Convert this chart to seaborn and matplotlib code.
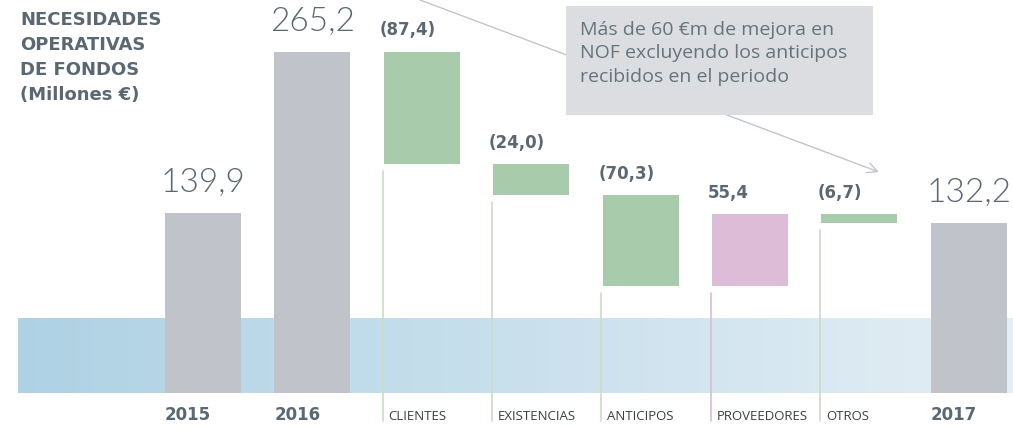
import numpy as np
import pandas as pd
import matplotlib
matplotlib.use('Agg')
import matplotlib.pyplot as plt
from matplotlib.colors import LinearSegmentedColormap
import seaborn as sns

# Chart data
categories = ['2015', '2016', 'CLIENTES', 'EXISTENCIAS', 'ANTICIPOS', 'PROVEEDORES', 'OTROS', '2017']
is_total = [True, True, False, False, False, False, False, True]
values = [139.9, 265.2, -87.4, -24.0, -70.3, 55.4, -6.7, 132.2]
value_labels = ['139,9', '265,2', '(87,4)', '(24,0)', '(70,3)', '55,4', '(6,7)', '132,2']
title_lines = ['NECESIDADES', 'OPERATIVAS', 'DE FONDOS', '(Millones €)']
note_text = 'Más de 60 €m de mejora en\nNOF excluyendo los anticipos\nrecibidos en el periodo'
band_top = 58.3

GREY = '#c0c3ca'
GREEN = '#a8cbab'
PINK = '#dcbcd6'
TEXT = '#5b6872'
line_colors = {GREEN: '#c9dec4', PINK: '#d9bdd4'}

# waterfall bottoms / heights
bottoms, heights, colors = [], [], []
running = 0.0
for v, tot in zip(values, is_total):
    if tot:
        bottoms.append(0.0)
        heights.append(v)
        colors.append(GREY)
        running = v
    else:
        new = running + v
        bottoms.append(min(running, new))
        heights.append(abs(v))
        colors.append(GREEN if v < 0 else PINK)
        running = new

df = pd.DataFrame({'cat': categories, 'height': heights, 'bottom': bottoms})

sns.set_style('white')
plt.rcParams['font.family'] = ['DejaVu Sans']

fig = plt.figure(figsize=(10.13, 4.28), dpi=100)
ax = fig.add_axes([0, 0, 1, 1])

bar_w = 0.695
sns.barplot(data=df, x='cat', y='height', hue='cat', palette=colors, legend=False,
            width=bar_w, saturation=1, linewidth=0, edgecolor='none', ax=ax, zorder=3)
# lift the floating bars onto their bottoms
for patch, b in zip(ax.patches, bottoms):
    patch.set_y(b)

# x/y limits chosen so that the layout matches the reference
px_step = 109.4
ppu = 1.286
xlim = (-203 / px_step, (1013 - 203) / px_step)
ylim = (-(428 - 393) / ppu, 393 / ppu)

# light blue gradient band behind the bars
cmap = LinearSegmentedColormap.from_list('band', ['#aed2e4', '#e4eef5'])
grad = np.linspace(0, 1, 256).reshape(1, -1)
ax.imshow(grad, cmap=cmap, aspect='auto', zorder=1,
          extent=[(18 - 203) / px_step, xlim[1], 0, band_top])

ax.set_xlim(*xlim)
ax.set_ylim(*ylim)
ax.axis('off')

label_y = -(420 - 393) / ppu
for i, (cat, tot, b, h, lab, col) in enumerate(zip(categories, is_total, bottoms, heights,
                                                   value_labels, colors)):
    left = i - bar_w / 2
    top = b + h
    if tot:
        ax.annotate(lab, (i, top), xytext=(0, 15), textcoords='offset points',
                    ha='center', va='baseline', fontsize=24, color=TEXT,
                    fontweight=300, family=['Lato', 'DejaVu Sans'])
        ax.text(left, label_y, cat, ha='left', va='baseline', fontsize=12,
                fontweight='bold', color=TEXT)
    else:
        ax.annotate(lab, (left, top), xytext=(-3, 12), textcoords='offset points',
                    ha='left', va='baseline', fontsize=12, color=TEXT,
                    fontweight='bold')
        line_x = left - 0.01
        ax.plot([line_x, line_x], [b - 7 / ppu, label_y - 1], color=line_colors[col],
                lw=1.2, zorder=2)
        ax.text(line_x + 6 / px_step, label_y, cat, ha='left', va='baseline',
                fontsize=9.5, color='#3a3f44', family=['Open Sans', 'DejaVu Sans'])

# title block
for k, line in enumerate(title_lines):
    fig.text(20 / 1013, 1 - (25 + 25 * k) / 428, line, ha='left', va='baseline',
             fontsize=13, fontweight='bold', color=TEXT)

# pointer line with open arrow head
ax.annotate('', xy=(879 / 1013, 1 - 172 / 428), xycoords='figure fraction',
            xytext=(420 / 1013, 1.0), textcoords='figure fraction',
            arrowprops=dict(arrowstyle='->', color='#c4c4d0', lw=1,
                            mutation_scale=18, shrinkA=0, shrinkB=0), zorder=4)

# grey note box
fig.patches.append(plt.Rectangle((566 / 1013, 1 - 115 / 428), 307 / 1013, 109 / 428,
                                 transform=fig.transFigure, facecolor='#dcdde0',
                                 edgecolor='none', zorder=5))
fig.text(580 / 1013, 1 - 21 / 428, note_text, ha='left', va='top',
         fontsize=14, color='#67737c', linespacing=1.38, zorder=6,
         family=['Open Sans', 'DejaVu Sans'])

fig.savefig('out.png', dpi=100)
